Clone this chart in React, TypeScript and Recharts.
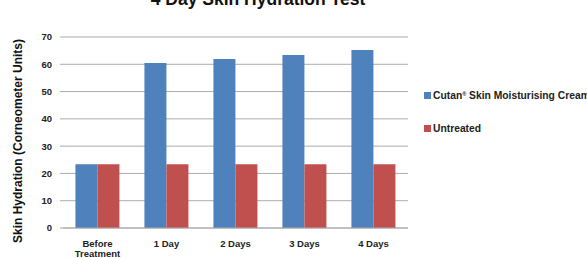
import React from "react";
import { BarChart, Bar, XAxis, YAxis, CartesianGrid, Label } from "recharts";

const categories = ["Before Treatment", "1 Day", "2 Days", "3 Days", "4 Days"];
const cutanValues = [23.4, 60.5, 61.9, 63.4, 65.2];
const untreatedValues = [23.4, 23.4, 23.4, 23.4, 23.4];
const yTicks = [0, 10, 20, 30, 40, 50, 60, 70];

const data = categories.map((name, i) => ({
  name,
  cutan: cutanValues[i],
  untreated: untreatedValues[i],
}));

const FONT = "'Liberation Sans', Arial, sans-serif";
const BLUE = "#4F81BD";
const RED = "#C0504D";
const GRID = "#ababab";

function XTick({ x, y, payload }: any) {
  const lines = payload.value.length > 10 ? payload.value.split(" ") : [payload.value];
  return (
    <text x={x} y={y} textAnchor="middle" fontFamily={FONT} fontSize={9.5} fontWeight="bold" fill="#222">
      {lines.map((l: string, i: number) => (
        <tspan key={i} x={x} dy={i === 0 ? 10.5 : 10.5}>{l}</tspan>
      ))}
    </text>
  );
}

// legend drawn as an overlay so it doesn't eat into the plot area
function ChartLegend() {
  const items = [
    { color: BLUE, label: <>Cutan<tspan fontSize={5.5} dy={-3.5}>®</tspan><tspan dy={3.5}> Skin Moisturising Cream</tspan></> },
    { color: RED, label: <>Untreated</> },
  ];
  return (
    <svg width={170} height={50} style={{ position: "absolute", left: 424, top: 88, overflow: "visible" }}>
      {items.map((it, i) => (
        <g key={i} transform={`translate(0, ${i * 33})`}>
          <rect x={0} y={4} width={7} height={7} fill={it.color} />
          <text x={9} y={11} fontFamily={FONT} fontSize={10.3} fontWeight="bold" fill="#222">{it.label}</text>
        </g>
      ))}
    </svg>
  );
}

export default function App() {
  return (
    <div style={{ position: "fixed", left: 0, top: 0, width: 587, height: 258, overflow: "hidden", background: "#fff" }}>
      <BarChart
        width={587}
        height={258}
        data={data}
        margin={{ top: 37, right: 179, left: 0, bottom: 0 }}
        barCategoryGap="18%"
        barGap={0}
      >
        <CartesianGrid vertical={false} stroke={GRID} />
        <XAxis
          dataKey="name"
          height={30}
          axisLine={{ stroke: GRID }}
          tickLine={false}
          interval={0}
          tick={<XTick />}
        />
        <YAxis
          width={63}
          domain={[0, 70]}
          ticks={yTicks}
          axisLine={false}
          tickLine={{ stroke: GRID }}
          tickSize={3}
          tickMargin={8}
          tick={{ fontFamily: FONT, fontSize: 9.5, fontWeight: "bold", fill: "#222" }}
        >
          <Label
            content={() => (
              <text
                x={0}
                y={0}
                transform="translate(22, 141) rotate(-90)"
                textAnchor="middle"
                fontFamily={FONT}
                fontSize={12}
                fontWeight="bold"
                fill="#111"
              >
                Skin Hydration (Corneometer Units)
              </text>
            )}
          />
        </YAxis>
        <Bar dataKey="cutan" fill={BLUE} isAnimationActive={false} />
        <Bar dataKey="untreated" fill={RED} isAnimationActive={false} />
      </BarChart>
      <svg width={587} height={30} style={{ position: "absolute", left: 0, top: 0, pointerEvents: "none" }}>
        <text x={258} y={4.5} textAnchor="middle" fontFamily={FONT} fontSize={17.5} fontWeight="bold" fill="#111">
          4 Day Skin Hydration Test
        </text>
      </svg>
      <ChartLegend />
    </div>
  );
}
